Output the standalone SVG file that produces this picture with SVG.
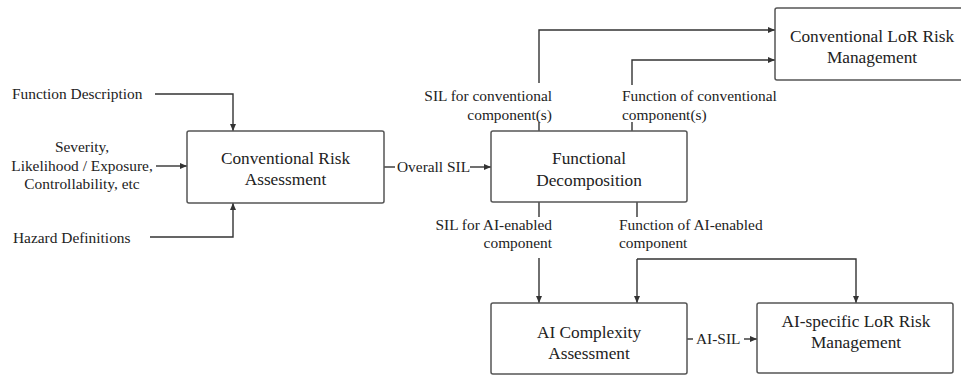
<svg xmlns="http://www.w3.org/2000/svg" width="961" height="376" viewBox="0 0 961 376">
<style>
.box{fill:#fff;stroke:#555;stroke-width:1.5}
.bt{font-family:"Liberation Serif","Times New Roman",serif;font-size:17.3px;fill:#222;text-anchor:middle}
.lt{font-family:"Liberation Serif","Times New Roman",serif;font-size:15.4px;fill:#222}
.ln{fill:none;stroke:#333;stroke-width:1.4}
</style>
<defs>
<marker id="ah" markerWidth="8" markerHeight="8" refX="7" refY="4" orient="auto" markerUnits="userSpaceOnUse">
<path d="M0,1 L7,4 L0,7 Z" fill="#333"/>
</marker>
</defs>
<rect width="961" height="376" fill="#fff"/>
<g id="connectors">
<path class="ln" d="M155,94 H233 V131" marker-end="url(#ah)"/>
<path class="ln" d="M156,166 H187" marker-end="url(#ah)"/>
<path class="ln" d="M150,237 H233 V203" marker-end="url(#ah)"/>
<path class="ln" d="M384,167 H395"/>
<path class="ln" d="M470,167 H491" marker-end="url(#ah)"/>
<path class="ln" d="M539,131 V122"/>
<path class="ln" d="M539,83 V30 H775" marker-end="url(#ah)"/>
<path class="ln" d="M632,131 V122"/>
<path class="ln" d="M632,85 V60 H775" marker-end="url(#ah)"/>
<path class="ln" d="M539,202 V217"/>
<path class="ln" d="M539,258 V303" marker-end="url(#ah)"/>
<path class="ln" d="M637,202 V217"/>
<path class="ln" d="M637,259 V303" marker-end="url(#ah)"/>
<path class="ln" d="M637,259 H856 V303" marker-end="url(#ah)"/>
<path class="ln" d="M687,339 H693"/>
<path class="ln" d="M744,339 H757" marker-end="url(#ah)"/>
</g>
<g id="labels">
<text class="lt" x="12" y="99">Function Description</text>
<text class="lt" x="82" y="152" text-anchor="middle">Severity,</text>
<text class="lt" x="82" y="171" text-anchor="middle">Likelihood / Exposure,</text>
<text class="lt" x="82" y="189" text-anchor="middle">Controllability, etc</text>
<text class="lt" x="13" y="243">Hazard Definitions</text>
<text class="lt" x="397" y="172">Overall SIL</text>
<text class="lt" x="552" y="101" text-anchor="end">SIL for conventional</text>
<text class="lt" x="552" y="120" text-anchor="end">component(s)</text>
<text class="lt" x="622" y="101">Function of conventional</text>
<text class="lt" x="622" y="120">component(s)</text>
<text class="lt" x="552" y="230" text-anchor="end">SIL for AI-enabled</text>
<text class="lt" x="552" y="248" text-anchor="end">component</text>
<text class="lt" x="619" y="230">Function of AI-enabled</text>
<text class="lt" x="619" y="248">component</text>
<text class="lt" x="696" y="344">AI-SIL</text>
</g>
<g id="node-cra">
<rect class="box" x="187" y="131" width="197" height="72" rx="2"/>
<text class="bt" x="285.5" y="164">Conventional Risk</text>
<text class="bt" x="285.5" y="185">Assessment</text>
</g>
<g id="node-fd">
<rect class="box" x="491" y="131" width="196" height="71" rx="2"/>
<text class="bt" x="589" y="164">Functional</text>
<text class="bt" x="589" y="186">Decomposition</text>
</g>
<g id="node-clor">
<rect class="box" x="775" y="8" width="195" height="72" rx="2"/>
<text class="bt" x="872" y="42">Conventional LoR Risk</text>
<text class="bt" x="872" y="63">Management</text>
</g>
<g id="node-aica">
<rect class="box" x="491" y="303" width="196" height="71" rx="2"/>
<text class="bt" x="589" y="338">AI Complexity</text>
<text class="bt" x="589" y="359">Assessment</text>
</g>
<g id="node-ailor">
<rect class="box" x="757" y="303" width="196" height="70" rx="2"/>
<text class="bt" x="856" y="327">AI-specific LoR Risk</text>
<text class="bt" x="856" y="348">Management</text>
</g>
</svg>
